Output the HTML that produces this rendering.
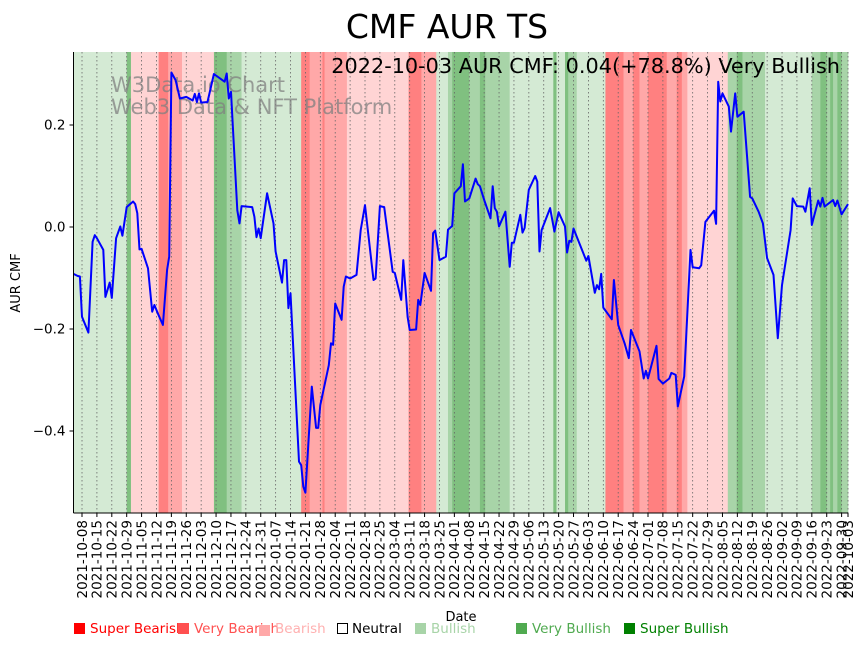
<!DOCTYPE html>
<html><head><meta charset="utf-8">
<style>
html,body{margin:0;padding:0;background:#fff;}
svg{display:block;font-family:"DejaVu Sans","Liberation Sans",sans-serif;}
</style></head>
<body>
<svg id="chart" width="867" height="646" viewBox="0 0 867 646">
  <g id="bands"></g>
  <g id="grid"></g>
  <text x="111" y="92" font-size="21" fill="#808080" fill-opacity="0.75">W3Data.io Chart</text>
  <text x="111" y="114" font-size="21" fill="#808080" fill-opacity="0.75">Web3 Data &amp; NFT Platform</text>
  <path id="line" fill="none" stroke="#0000ff" stroke-width="2" stroke-linejoin="round"></path>
  <g id="axes"></g>
  <text x="447" y="38" font-size="33" text-anchor="middle" fill="#000">CMF AUR TS</text>
  <text x="840" y="73" font-size="20.8" text-anchor="end" fill="#000">2022-10-03 AUR CMF: 0.04(+78.8%) Very Bullish</text>
  <text x="461" y="621" font-size="13" text-anchor="middle">Date</text>
  <text transform="translate(20,283) rotate(-90)" font-size="13" text-anchor="middle">AUR CMF</text>
  <g id="legend" font-size="13.5">
    <rect x="74" y="623" width="11" height="11" fill="#ff0000"/>
    <text x="90" y="633" fill="#ff0000">Super Bearish</text>
    <rect x="178" y="623" width="11" height="11" fill="#ff5050"/>
    <text x="194" y="633" fill="#ff5050">Very Bearish</text>
    <rect x="259" y="625" width="11" height="11" fill="#ffa8a8"/>
    <text x="275" y="633" fill="#ffb0b0">Bearish</text>
    <rect x="337.5" y="623.5" width="10" height="10" fill="none" stroke="#000"/>
    <text x="352" y="633" fill="#000">Neutral</text>
    <rect x="415" y="623" width="11" height="11" fill="#a8d4a8"/>
    <text x="431" y="633" fill="#a8d4a8">Bullish</text>
    <rect x="516" y="623" width="11" height="11" fill="#50aa50"/>
    <text x="532" y="633" fill="#50aa50">Very Bullish</text>
    <rect x="624" y="623" width="11" height="11" fill="#008000"/>
    <text x="640" y="633" fill="#008000">Super Bullish</text>
  </g>
</svg>
<script>
// Data: day offset from 2021-10-04 and CMF value
const days = [0,2,3,4,7,9,10,11,14,15,17,18,20,22,23,25,28,29,30,31,32,35,37,38,40,42,44,45,46,48,50,53,56,57,58,59,60,63,66,71,72,73,74,77,78,79,84,85,86,87,88,91,94,95,98,99,100,101,102,106,107,108,109,112,114,115,116,120,121,122,123,126,127,128,130,133,135,137,141,142,144,146,150,151,154,155,157,158,161,162,163,165,168,169,170,172,175,176,178,179,182,183,184,186,189,190,191,193,196,197,198,199,200,203,205,206,207,210,211,212,214,217,218,219,220,224,226,228,231,232,233,234,235,241,242,245,246,247,248,249,253,254,256,259,261,262,266,268,269,270,274,275,277,280,281,283,284,287,290,291,294,295,297,301,302,303,304,305,308,309,311,312,315,318,319,322,324,326,329,331,333,337,338,340,343,344,346,347,350,351,352,353,357,358,359,361,364];
const values = [-0.092,-0.096,-0.097,-0.176,-0.207,-0.029,-0.016,-0.022,-0.045,-0.137,-0.109,-0.139,-0.022,0.001,-0.017,0.039,0.050,0.045,0.027,-0.044,-0.043,-0.081,-0.166,-0.153,-0.173,-0.192,-0.084,-0.058,0.303,0.288,0.252,0.255,0.248,0.261,0.245,0.262,0.244,0.245,0.300,0.285,0.301,0.252,0.265,0.033,0.007,0.041,0.039,0.020,-0.020,-0.003,-0.022,0.066,0.007,-0.048,-0.109,-0.065,-0.065,-0.159,-0.130,-0.460,-0.467,-0.509,-0.521,-0.313,-0.394,-0.394,-0.349,-0.271,-0.228,-0.231,-0.150,-0.182,-0.117,-0.097,-0.101,-0.094,-0.006,0.043,-0.104,-0.101,0.041,0.039,-0.088,-0.090,-0.143,-0.065,-0.176,-0.202,-0.201,-0.143,-0.153,-0.090,-0.125,-0.012,-0.007,-0.065,-0.058,-0.005,0.002,0.066,0.080,0.123,0.050,0.056,0.095,0.084,0.080,0.053,0.017,0.080,0.037,0.030,0.001,0.030,-0.078,-0.031,-0.031,0.024,-0.011,-0.002,0.073,0.100,0.089,-0.048,-0.006,0.037,-0.009,0.029,0.001,-0.050,-0.027,-0.029,-0.003,-0.066,-0.057,-0.129,-0.114,-0.122,-0.092,-0.158,-0.181,-0.104,-0.192,-0.228,-0.257,-0.202,-0.244,-0.297,-0.282,-0.297,-0.233,-0.298,-0.307,-0.297,-0.286,-0.290,-0.352,-0.293,-0.045,-0.079,-0.081,-0.075,0.010,0.032,0.006,0.285,0.246,0.262,0.236,0.187,0.262,0.216,0.226,0.059,0.056,0.030,0.007,-0.061,-0.094,-0.218,-0.114,-0.006,0.056,0.041,0.040,0.030,0.076,0.004,0.052,0.040,0.057,0.040,0.053,0.041,0.052,0.025,0.045];
// Sentiment bands: start day, end day, class
const bandStarts = [0,25,27,40,44.5,51,66,72,79,107,111,117,118,128.5,157.5,163.5,170.5,176,178,186,191,193.5,205,225.5,227,231,232.5,236.5,250,258.5,263,266,270,278.8,283.5,285.9,288.5,307.5,311.7,314.4,325,347,351,354,355.6,357,359,361];
const bandEnds =   [25,27,40,44.5,51,66,72,79,107,111,117,118,128.5,157.5,163.5,170.5,176,178,186,191,193.5,205,225.5,227,231,232.5,236.5,250,258.5,263,266,270,278.8,283.5,285.9,288.5,307.5,311.7,314.4,325,347,351,354,355.6,357,359,361,364];
const bandClass =  ['bull','sbull','bear','sbear','vbear','bear','sbull','vbull','bull','sbear','vbear','sbear','vbear','bear','sbear','vbear','bull','vbull','sbull','vbull','sbull','vbull','bull','sbull','bull','sbull','vbull','bull','sbear','vbear','sbear','vbear','sbear','vbear','sbear','vbear','bear','vbull','sbull','vbull','bull','vbull','sbull','vbull','sbull','vbull','sbull','vbull'];
const yTicks = [0.2,0.0,-0.2,-0.4];
const yTickLabels = ['0.2','0.0','\u22120.2','\u22120.4'];

const NS='http://www.w3.org/2000/svg';
const X0=73.5, X1=848, Y0=52, Y1=513, SPAN=364;
const xs = d => X0 + (d/SPAN)*(X1-X0);
const ys = v => 227 - v*510;
const bandColor = {bull:'#d4ead4',vbull:'#a8d4a8',sbull:'#80c080',bear:'#ffd4d4',vbear:'#ffa8a8',sbear:'#ff8080'};
function mk(tag, attrs, parent){const e=document.createElementNS(NS,tag);for(const k in attrs)e.setAttribute(k,attrs[k]);parent.appendChild(e);return e;}

const gb=document.getElementById('bands');
for(let i=0;i<bandStarts.length;i++){
  const r=mk('rect',{x:xs(bandStarts[i]),y:Y0,width:xs(bandEnds[i])-xs(bandStarts[i])+0.3,height:Y1-Y0,fill:bandColor[bandClass[i]]},gb);
  
  
}

const base=new Date(Date.UTC(2021,9,4));
const tickDays=[]; for(let d=4; d<=361; d+=7) tickDays.push(d); tickDays.push(364);
const gg=document.getElementById('grid'), ga=document.getElementById('axes');
function fmt(d){const t=new Date(base.getTime()+d*86400000);return t.toISOString().slice(0,10);}
tickDays.forEach(d=>{
  const x=xs(d);
  const g=mk('line',{x1:x,x2:x,y1:Y0,y2:Y1,stroke:'#666','stroke-width':0.8,'stroke-dasharray':'1.5,2.5'},gg);
  
  
  const t=mk('line',{x1:x,x2:x,y1:Y1,y2:Y1+4,stroke:'#000','stroke-width':1},ga);
  
  
  const l=mk('text',{transform:`translate(${x+4.8},${Y1+7}) rotate(-90)`,'font-size':13.5,'text-anchor':'end'},ga);
  l.textContent=fmt(d);
  
  
});
yTicks.forEach((v,i)=>{
  const y=ys(v);
  const t=mk('line',{x1:X0-4,x2:X0,y1:y,y2:y,stroke:'#000','stroke-width':1},ga);
  
  
  const l=mk('text',{x:X0-8,y:y+4.5,'font-size':13.5,'text-anchor':'end'},ga);
  l.textContent=yTickLabels[i];
  
  
});
const sl=mk('line',{x1:X0,x2:X0,y1:Y0,y2:Y1,stroke:'#000','stroke-width':1},ga);


const sb=mk('line',{x1:X0,x2:X1,y1:Y1,y2:Y1,stroke:'#000','stroke-width':1},ga);



document.getElementById('line').setAttribute('d', days.map((d,i)=>(i?'L':'M')+xs(d).toFixed(1)+','+ys(values[i]).toFixed(1)).join(' '));
</script>
</body></html>
